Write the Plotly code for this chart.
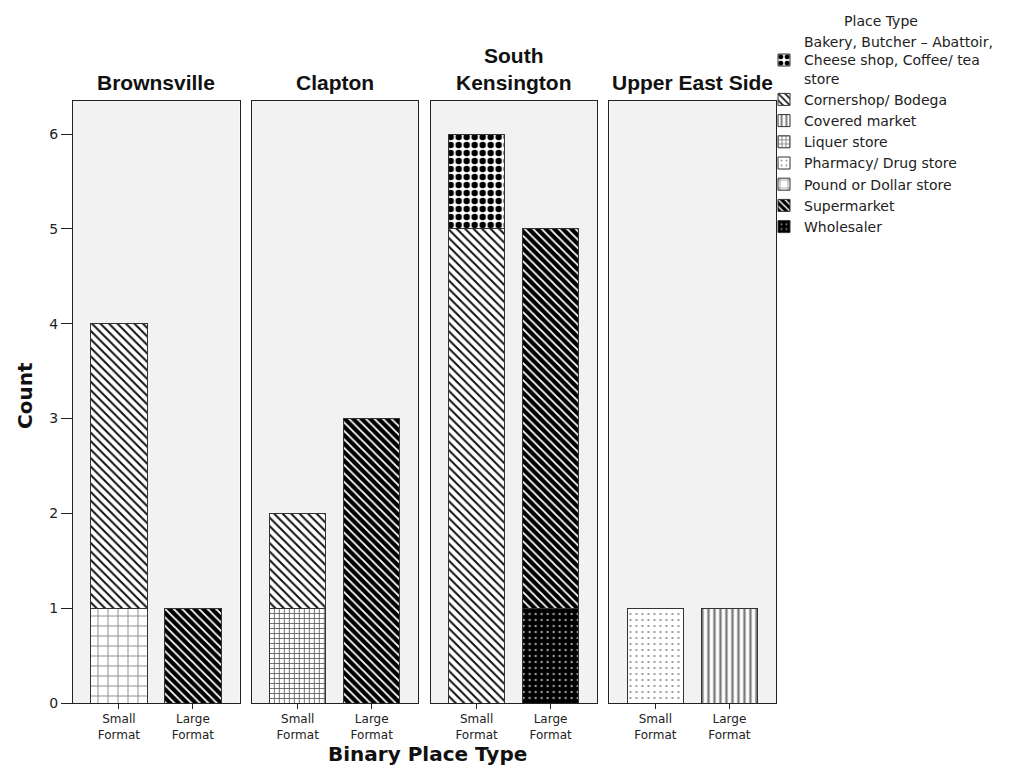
import plotly.graph_objects as go
from plotly.subplots import make_subplots

# ---------------- data ----------------
regions = ["Brownsville", "Clapton", "South<br>Kensington", "Upper East Side"]
formats = ["Small<br>Format", "Large<br>Format"]

# counts ordered: [Brownsville small, Brownsville large, Clapton small, Clapton large,
#                  South Kensington small, South Kensington large, UES small, UES large]
bakery_counts = [0, 0, 0, 0, 1, 0, 0, 0]
cornershop_counts = [3, 0, 1, 0, 5, 0, 0, 0]
covered_counts = [0, 0, 0, 0, 0, 0, 0, 1]
liquer_counts = [0, 0, 1, 0, 0, 0, 0, 0]
pharmacy_counts = [0, 0, 0, 0, 0, 0, 1, 0]
pound_counts = [1, 0, 0, 0, 0, 0, 0, 0]
supermarket_counts = [0, 1, 0, 3, 0, 4, 0, 0]
wholesaler_counts = [0, 0, 0, 0, 0, 1, 0, 0]

type_names = {
    "bakery": "Bakery, Butcher – Abattoir,<br>Cheese shop, Coffee/ tea<br>store",
    "cornershop": "Cornershop/ Bodega",
    "covered": "Covered market",
    "liquer": "Liquer store",
    "pharmacy": "Pharmacy/ Drug store",
    "pound": "Pound or Dollar store",
    "supermarket": "Supermarket",
    "wholesaler": "Wholesaler",
}
counts = {
    "bakery": bakery_counts,
    "cornershop": cornershop_counts,
    "covered": covered_counts,
    "liquer": liquer_counts,
    "pharmacy": pharmacy_counts,
    "pound": pound_counts,
    "supermarket": supermarket_counts,
    "wholesaler": wholesaler_counts,
}
legend_order = ["bakery", "cornershop", "covered", "liquer",
                "pharmacy", "pound", "supermarket", "wholesaler"]
stack_order = ["pound", "liquer", "pharmacy", "covered",
               "wholesaler", "cornershop", "supermarket", "bakery"]

# ---------------- styles ----------------
patterns = {
    "bakery": dict(shape=".", fgcolor="black", bgcolor="white", size=8, solidity=0.5),
    "cornershop": dict(shape="\\", fgcolor="#111111", bgcolor="white", size=6, solidity=0.33),
    "covered": dict(shape="|", fgcolor="#7a7a7a", bgcolor="white", size=6, solidity=0.4),
    "liquer": dict(shape="+", fgcolor="#555555", bgcolor="white", size=5, solidity=0.3),
    "pharmacy": dict(shape=".", fgcolor="#888888", bgcolor="white", size=6, solidity=0.1),
    "pound": dict(shape="+", fgcolor="#8a8a8a", bgcolor="white", size=10, solidity=0.18),
    "supermarket": dict(shape="\\", fgcolor="white", bgcolor="black", size=6, solidity=0.3),
    "wholesaler": dict(shape=".", fgcolor="#9a9a9a", bgcolor="black", size=6, solidity=0.12),
}

W, H = 1031, 784
ML, MR, MT, MB = 73, 255, 101, 81
plot_w = W - ML - MR
plot_h = H - MT - MB

fig = make_subplots(rows=1, cols=4, shared_yaxes=True,
                    horizontal_spacing=12.3 / plot_w)

shown = set()
for key in stack_order:
    vals = counts[key]
    for i in range(len(regions)):
        pair = [vals[2 * i], vals[2 * i + 1]]
        if sum(pair) == 0:
            continue
        ys = [v if v else None for v in pair]
        fig.add_trace(go.Bar(
            x=formats, y=ys,
            name=type_names[key],
            legendgroup=key,
            legendrank=legend_order.index(key) + 1,
            showlegend=key not in shown,
            width=0.76,
            marker=dict(color="white", pattern=dict(fgopacity=1, **patterns[key]),
                        line=dict(color="#333333", width=1)),
            hoverinfo="skip",
        ), row=1, col=i + 1)
        shown.add(key)

font_main = "DejaVu Sans"
for i in range(1, 5):
    fig.update_xaxes(row=1, col=i, type="category", categoryorder="array",
                     categoryarray=formats, range=[-0.62, 1.63],
                     showline=True, mirror=True, linecolor="#222222", linewidth=1,
                     ticks="outside", ticklen=5, tickcolor="#222222",
                     showgrid=False, zeroline=False,
                     tickfont=dict(family=font_main, size=12, color="#222222"))
    fig.update_yaxes(row=1, col=i, range=[0, 6.35],
                     showline=True, mirror=True, linecolor="#222222", linewidth=1,
                     showgrid=False, zeroline=False,
                     tickvals=[0, 1, 2, 3, 4, 5, 6])
fig.update_yaxes(row=1, col=1, ticks="outside", ticklen=11, tickcolor="#222222",
                 tickfont=dict(family=font_main, size=14, color="#222222"))
for i in range(2, 5):
    fig.update_yaxes(row=1, col=i, ticks="", showticklabels=False)

# facet titles
for i, r in enumerate(regions):
    xr = "x domain" if i == 0 else f"x{i + 1} domain"
    fig.add_annotation(text=r, xref=xr, yref="paper", x=0.5, y=1.0,
                       xanchor="center", yanchor="bottom", yshift=5, showarrow=False,
                       font=dict(family="Liberation Sans", size=21, weight="bold",
                                 color="#111111"))

fig.add_annotation(text="Binary Place Type", xref="paper", yref="paper",
                   x=(427 - ML) / plot_w, y=-(754 - 703) / plot_h,
                   xanchor="center", yanchor="middle", showarrow=False,
                   font=dict(family=font_main, size=20, weight="bold", color="#111111"))
fig.add_annotation(text="Count", xref="paper", yref="paper",
                   x=(25 - ML) / plot_w, y=(703 - 395) / plot_h, textangle=-90,
                   xanchor="center", yanchor="middle", showarrow=False,
                   font=dict(family=font_main, size=20, weight="bold", color="#111111"))

fig.update_layout(
    width=W, height=H,
    margin=dict(l=ML, r=MR, t=MT, b=MB, autoexpand=False),
    barmode="stack",
    paper_bgcolor="white",
    plot_bgcolor="#f2f2f2",
    font=dict(family=font_main, color="#222222"),
    legend=dict(
        traceorder="normal",
        xref="paper", yref="paper",
        x=(764 - ML) / plot_w, y=1 + (MT - 8) / plot_h,
        xanchor="left", yanchor="top",
        bgcolor="rgba(0,0,0,0)",
        font=dict(family=font_main, size=14, color="#222222"),
        title=dict(text="Place Type", side="top center",
                   font=dict(family=font_main, size=14, color="#222222")),
    ),
)

fig.write_html("out.html", config={"displayModeBar": False},
               post_script="document.body.style.margin='0';")
